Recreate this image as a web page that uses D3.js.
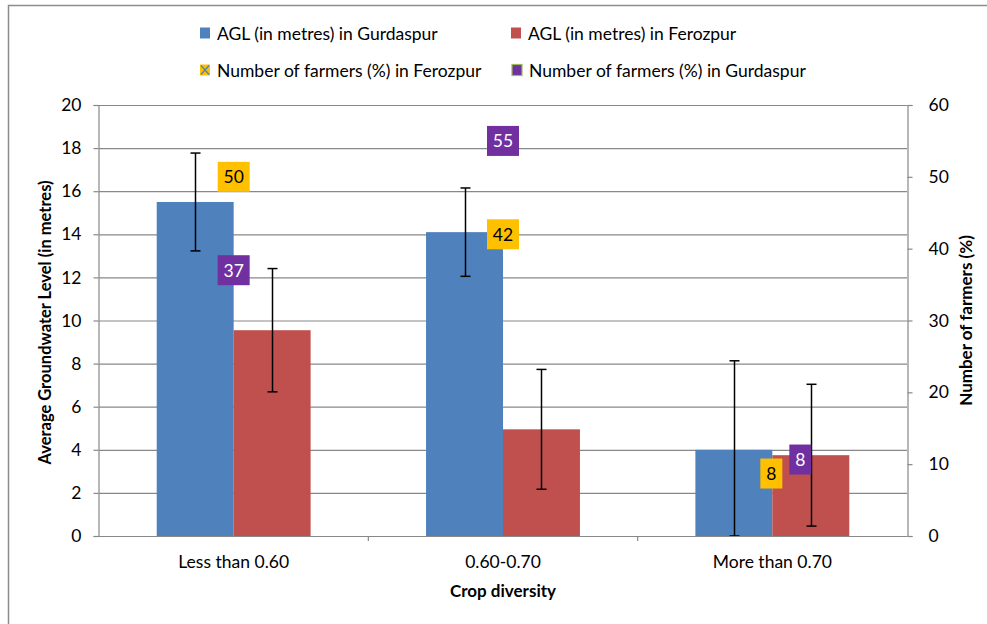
<!DOCTYPE html>
<html>
<head>
<meta charset="utf-8">
<script src="https://cdn.jsdelivr.net/npm/d3@7"></script>
<style>
  body { margin: 0; background: #fff; }
  text { font-family: Lato, "Open Sans", sans-serif; fill: #000; }
</style>
</head>
<body>
<svg width="987" height="624"></svg>
<script>
var svg = d3.select("svg");

// Data
var categories = ["Less than 0.60", "0.60-0.70", "More than 0.70"];
var aglGurdaspur = [15.5, 14.1, 4.0];
var aglFerozpur = [9.55, 4.95, 3.75];
var errGurdaspur = [2.27, 2.05, 4.13];
var errFerozpur = [2.86, 2.78, 3.29];
var farmersFerozpur = [50, 42, 8];
var farmersGurdaspur = [37, 55, 8];
var leftTicks = [0, 2, 4, 6, 8, 10, 12, 14, 16, 18, 20];
var rightTicks = [0, 10, 20, 30, 40, 50, 60];

// label nudges (px) so the overlapping labels stay readable
var shiftFeroz = [[0, 0], [0, 0], [-1, -5]];
var shiftGurd = [[0, 0], [0, 0], [28, -19]];

var plotLeft = 99, plotRight = 907, plotTop = 105, plotBottom = 536;
var gridColor = "#888888";
var tickFont = 17.5;

// outer frame
svg.append("rect")
    .attr("x", 8.5).attr("y", 5.5)
    .attr("width", 1100).attr("height", 700)
    .attr("fill", "none")
    .attr("stroke", "#8c8c8c")
    .attr("stroke-width", 1.5);

var x0 = d3.scaleBand().domain(categories).range([plotLeft, plotRight]);
var x1 = d3.scaleBand().domain(["g", "f"])
    .range([0, x0.bandwidth()]).paddingInner(0).paddingOuter(0.75);
var y = d3.scaleLinear().domain([0, 20]).range([plotBottom, plotTop]);
var y2 = d3.scaleLinear().domain([0, 60]).range([plotBottom, plotTop]);

// gridlines
svg.append("g")
    .selectAll("line")
    .data(leftTicks.slice(1))
    .enter()
    .append("line")
    .attr("x1", plotLeft).attr("x2", plotRight)
    .attr("y1", function(d) { return y(d) + 0.5; })
    .attr("y2", function(d) { return y(d) + 0.5; })
    .attr("stroke", gridColor)
    .attr("stroke-width", 1.2);

// bars
var series = [
    { key: "g", values: aglGurdaspur, err: errGurdaspur, color: "#4f81bd" },
    { key: "f", values: aglFerozpur, err: errFerozpur, color: "#c0504d" }
];

series.forEach(function(s) {
    svg.append("g")
        .selectAll("rect")
        .data(categories)
        .enter()
        .append("rect")
        .attr("x", function(d) { return x0(d) + x1(s.key); })
        .attr("width", x1.bandwidth())
        .attr("y", function(d, i) { return y(s.values[i]); })
        .attr("height", function(d, i) { return plotBottom - y(s.values[i]); })
        .attr("fill", s.color);
});

// error bars
series.forEach(function(s) {
    var g = svg.append("g");
    categories.forEach(function(c, i) {
        var cx = Math.round(x0(c) + x1(s.key) + x1.bandwidth() / 2) + 0.5;
        var hi = y(s.values[i] + s.err[i]);
        var lo = y(Math.max(0, s.values[i] - s.err[i]));
        g.append("line")
            .attr("x1", cx).attr("x2", cx)
            .attr("y1", hi).attr("y2", lo)
            .attr("stroke", "#000").attr("stroke-width", 1.5);
        [hi, lo].forEach(function(yy) {
            g.append("line")
                .attr("x1", cx - 5).attr("x2", cx + 5)
                .attr("y1", yy).attr("y2", yy)
                .attr("stroke", "#000").attr("stroke-width", 1.5);
        });
    });
});

// axes
var leftAxis = d3.axisLeft(y).tickValues(leftTicks).tickSize(5).tickPadding(12);
var gl = svg.append("g").attr("transform", "translate(" + (plotLeft - 0.5) + ",0)").call(leftAxis);
var rightAxis = d3.axisRight(y2).tickValues(rightTicks).tickSize(5).tickPadding(16);
var gr = svg.append("g").attr("transform", "translate(" + (plotRight + 0.5) + ",0)").call(rightAxis);
var bottomAxis = d3.axisBottom(x0).tickSize(0).tickPadding(19);
var gb = svg.append("g").attr("transform", "translate(0," + (plotBottom + 0.5) + ")").call(bottomAxis);

[gl, gr, gb].forEach(function(g) {
    g.select(".domain").attr("stroke", gridColor).attr("stroke-width", 1.2);
    g.selectAll(".tick line").attr("stroke", gridColor).attr("stroke-width", 1.2);
    g.selectAll("text").attr("font-size", tickFont).attr("font-family", "Lato, sans-serif").attr("fill", "#000");
});
gb.select(".domain").attr("d", "M" + plotLeft + ",0H" + plotRight);

// category separator ticks on x axis
svg.append("g")
    .selectAll("line")
    .data(categories.slice(1))
    .enter()
    .append("line")
    .attr("x1", function(d) { return x0(d); })
    .attr("x2", function(d) { return x0(d); })
    .attr("y1", plotBottom).attr("y2", plotBottom + 5)
    .attr("stroke", gridColor).attr("stroke-width", 1.2);

// axis titles
svg.append("text")
    .attr("transform", "translate(51," + ((plotTop + plotBottom) / 2 + 2) + ") rotate(-90)")
    .attr("text-anchor", "middle")
    .attr("font-size", 16.5).attr("font-weight", "bold")
    .text("Average Groundwater Level (in metres)");
svg.append("text")
    .attr("transform", "translate(972," + ((plotTop + plotBottom) / 2) + ") rotate(-90)")
    .attr("text-anchor", "middle")
    .attr("font-size", 17).attr("font-weight", "bold")
    .text("Number of farmers (%)");
svg.append("text")
    .attr("x", (plotLeft + plotRight) / 2).attr("y", 597)
    .attr("text-anchor", "middle")
    .attr("font-size", 17).attr("font-weight", "bold")
    .text("Crop diversity");

// farmer labels (boxed data labels)
function drawLabels(vals, shifts, fill, textColor) {
    var g = svg.append("g");
    categories.forEach(function(c, i) {
        var cx = x0(c) + x0.bandwidth() / 2 + shifts[i][0];
        var cy = y2(vals[i]) + shifts[i][1];
        var label = String(vals[i]);
        var w = label.length > 1 ? 32 : 22;
        g.append("rect")
            .attr("x", cx - w / 2).attr("y", cy - 15)
            .attr("width", w).attr("height", 30)
            .attr("fill", fill);
        g.append("text")
            .attr("x", cx).attr("y", cy + 6.5)
            .attr("text-anchor", "middle")
            .attr("font-size", 17.5)
            .style("fill", textColor)
            .text(label);
    });
}
drawLabels(farmersFerozpur, shiftFeroz, "#ffc000", "#000");
drawLabels(farmersGurdaspur, shiftGurd, "#7030a0", "#fff");

// legend
var legendItems = [
    { label: "AGL (in metres) in Gurdaspur", x: 200, y: 33, kind: "bar", color: "#4f81bd" },
    { label: "AGL (in metres) in Ferozpur", x: 511, y: 33, kind: "bar", color: "#c0504d" },
    { label: "Number of farmers (%) in Ferozpur", x: 200, y: 70, kind: "cross", color: "#ffc000" },
    { label: "Number of farmers (%) in Gurdaspur", x: 512, y: 70, kind: "box", color: "#7030a0" }
];
var legend = svg.append("g")
    .selectAll("g")
    .data(legendItems)
    .enter()
    .append("g")
    .attr("transform", function(d) { return "translate(" + d.x + "," + d.y + ")"; });
legend.append("rect")
    .attr("x", 0).attr("y", -5.5)
    .attr("width", 10).attr("height", 11)
    .attr("fill", function(d) { return d.color; })
    .attr("stroke", function(d) { return d.kind === "box" ? "#9bbb59" : "none"; })
    .attr("stroke-width", 1.2);
legend.filter(function(d) { return d.kind === "cross"; })
    .append("path")
    .attr("d", "M1,-4.5L9,4.5M9,-4.5L1,4.5")
    .attr("stroke", "#4f81bd").attr("stroke-width", 1.2);
legend.append("text")
    .attr("x", 17).attr("y", 6.5)
    .attr("font-size", tickFont)
    .text(function(d) { return d.label; });
</script>
</body>
</html>
